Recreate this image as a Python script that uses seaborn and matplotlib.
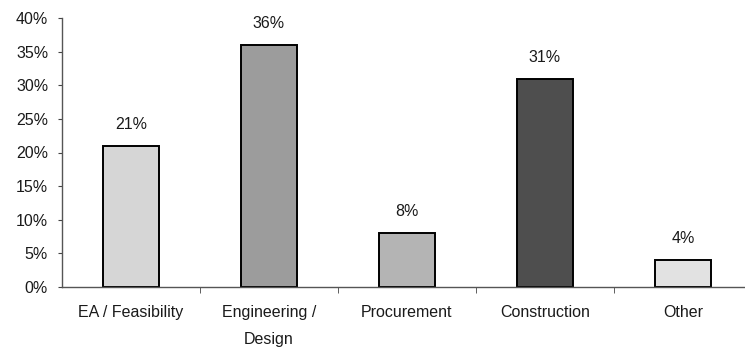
import matplotlib
matplotlib.use("Agg")
import matplotlib.pyplot as plt
import seaborn as sns
import numpy as np
import pandas as pd

categories = ["EA / Feasibility", "Engineering /\nDesign", "Procurement", "Construction", "Other"]
shares = [0.21, 0.36, 0.08, 0.31, 0.04]
bar_colors = ["#d6d6d6", "#9c9c9c", "#b4b4b4", "#4e4e4e", "#e2e2e2"]
y_ticks = [0.0, 0.05, 0.10, 0.15, 0.20, 0.25, 0.30, 0.35, 0.40]

sns.set_style("white")
plt.rcParams["font.family"] = ["Liberation Sans", "DejaVu Sans"]

df = pd.DataFrame({"Phase": categories, "Share": shares})

fig = plt.figure(figsize=(7.45, 3.52), dpi=100)
ax = fig.add_axes([62 / 745, 65 / 352, 690 / 745, 269 / 352])

sns.barplot(data=df, x="Phase", y="Share", hue="Phase", palette=bar_colors,
            width=0.4, edgecolor="black", linewidth=1.4, legend=False, ax=ax)

for cont in ax.containers:
    ax.bar_label(cont, labels=[f"{v * 100:.0f}%" for v in cont.datavalues],
                 padding=10, fontsize=11.5, color="#1a1a1a")

ax.set_xlim(-0.5, 4.5)
ax.set_ylim(0, 0.40)
ax.set_yticks(y_ticks)
ax.set_yticklabels([f"{t * 100:.0f}%" for t in y_ticks])
ax.set_xlabel("")
ax.set_ylabel("")

ax.set_xticks(np.arange(0.5, 4.5, 1.0), minor=True)
ax.tick_params(axis="x", which="major", length=0, pad=13, labelsize=11.5, colors="#1a1a1a")
ax.tick_params(axis="x", which="minor", length=4, direction="out", color="#444444", bottom=True)
ax.tick_params(axis="y", length=3, direction="out", pad=7, labelsize=11.5, colors="#1a1a1a", left=True)
ax.tick_params(axis="y", color="#444444")
for lbl in ax.get_xticklabels():
    lbl.set_linespacing(2.0)

sns.despine(ax=ax, top=True, right=True)
for side in ["left", "bottom"]:
    ax.spines[side].set_color("#555555")
    ax.spines[side].set_linewidth(1.0)

fig.savefig("out.png", dpi=100)
